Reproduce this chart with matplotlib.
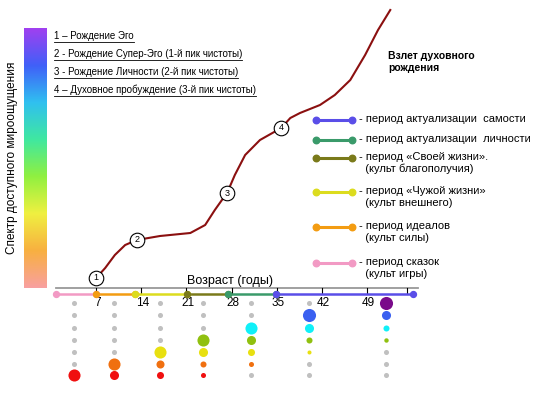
import numpy as np
import matplotlib
matplotlib.use("Agg")
import matplotlib.pyplot as plt
from matplotlib.colors import LinearSegmentedColormap

plt.rcParams['font.family'] = ['Liberation Sans', 'DejaVu Sans']

# ---- data ----
ages_ticks = [7, 14, 21, 28, 35, 42, 49]
curve_age = [7.0, 8.4, 9.9, 11.5, 13.3, 16.9, 21.6, 23.9, 25.4, 26.5, 27.3, 28.5, 30.1, 32.4, 35.7, 37.1, 38.6, 41.7, 44.0, 46.4, 48.7, 50.7, 52.6]
curve_lvl = [278, 268, 255, 245, 240, 236, 233, 225, 210, 200, 193, 175, 155, 140, 128, 118, 113, 105, 95, 80, 55, 30, 10]
milestone_age = [7.0, 13.3, 27.3, 35.7]
milestone_lvl = [278, 240, 193, 128]
milestone_lbl = ["1", "2", "3", "4"]
period_bounds = [0.78, 7.0, 13.0, 21.1, 27.4, 34.9, 56.1]
period_colors = ["#f29ac4", "#f39c12", "#dcdc1e", "#7a7a1a", "#3a9a6a", "#5a4ee8"]
legend_labels = ["- период актуализации  самости", "- период актуализации  личности",
                 "- период «Своей жизни».\n  (культ благополучия)",
                 "- период «Чужой жизни»\n  (культ внешнего)",
                 "- период идеалов\n  (культ силы)",
                 "- период сказок\n  (культ игры)"]
notes = ["1 – Рождение Эго", "2 - Рождение Супер-Эго (1-й пик чистоты)",
         "3 - Рождение Личности (2-й пик чистоты)", "4 – Духовное пробуждение (3-й пик чистоты)"]
dot_col_age = [3.57, 9.77, 16.9, 23.57, 31.0, 40.0, 51.9]
row_colors = ["#7a0a8a", "#3a60f0", "#10f0f8", "#90c010", "#e8e010", "#f07010", "#f01010"]
# radius per column (top row -> bottom row); 0 = gray
dot_sizes = [
    [0, 0, 0, 0, 0, 0, 6.0],
    [0, 0, 0, 0, 0, 6.0, 4.5],
    [0, 0, 0, 0, 6.0, 4.0, 3.5],
    [0, 0, 0, 6.0, 4.5, 3.0, 2.5],
    [0, 0, 6.0, 4.5, 3.5, 2.5, 0],
    [0, 6.5, 4.5, 3.0, 2.0, 0, 0],
    [6.5, 4.5, 3.0, 2.2, 0, 0, 0],
]
row_lvl = [303, 315, 328, 340, 352, 364, 375]

PX = 6.45; X0 = 51.0
def a2x(a): return X0 + PX * np.asarray(a)

fig = plt.figure(figsize=(5.45, 4.0), dpi=100)
ax = fig.add_axes([0, 0, 1, 1])
ax.set_xlim(0, 545); ax.set_ylim(400, 0); ax.axis("off")

# spectrum bar
cmap = LinearSegmentedColormap.from_list("s", ["#a040f0", "#4060f8", "#30c0f0", "#40e8a0", "#90f040", "#f0f040", "#f8b040", "#f8a0a0"])
ax.imshow(np.linspace(0, 1, 256)[:, None], cmap=cmap, extent=[24, 47, 288, 28], aspect="auto", zorder=1)
ax.text(12, 158, "Спектр доступного мироощущения", rotation=90, ha="center", va="center", fontsize=8.5)

# notes
for i, t in enumerate(notes):
    y = 36 + i * 18
    txt = ax.text(54, y, t, fontsize=7, va="center")
    fig.canvas.draw()
    bb = txt.get_window_extent()
    ax.plot([54, 54 + bb.width], [y + 6, y + 6], color="k", lw=0.6)

# curve
ax.plot(a2x(curve_age), curve_lvl, color="#8b1010", lw=1.5, zorder=2)
for a, l, t in zip(milestone_age, milestone_lvl, milestone_lbl):
    ax.scatter(a2x(a), l, s=110, facecolor="white", edgecolor="k", lw=0.8, zorder=3)
    ax.text(a2x(a), l, t, ha="center", va="center", fontsize=6.5, zorder=4)
ax.text(388, 62, "Взлет духовного\nрождения", fontsize=7.5, fontweight="bold", va="center")

# axis
ax.plot([56, 418], [288, 288], color="#999999", lw=1.3)
for a in ages_ticks:
    x = a2x(a)
    ax.plot([x, x], [288, 294], color="k", lw=0.8)
    ax.text(x + 1.5, 303, str(a), ha="center", va="center", fontsize=8.5)
ax.plot([407, 407], [288, 294], color="k", lw=0.8)
ax.text(230, 281, "Возраст (годы)", ha="center", va="center", fontsize=9)
for i, c in enumerate(period_colors):
    xs = a2x([period_bounds[i], period_bounds[i + 1]])
    ax.plot(xs, [294, 294], color=c, lw=1.8, zorder=2)
    ax.scatter(xs, [294, 294], s=18, color=c, zorder=3)

# legend
leg_y = [120, 140, 158, 192, 227, 263]
leg_cols = period_colors[::-1]
for y, c, t in zip(leg_y, leg_cols, legend_labels):
    ax.plot([316, 352], [y, y], color=c, lw=2.2)
    ax.scatter([316, 352], [y, y], s=22, color=c, zorder=3)
    ax.text(359, y - 6, t, fontsize=8, va="top", linespacing=1.2)

# dots
for a, sizes in zip(dot_col_age, dot_sizes):
    for r, l, c in zip(sizes, row_lvl, row_colors):
        if r == 0:
            ax.scatter(a2x(a), l, s=(2.6 * 1.4) ** 2, color="#c0c0c0", lw=0)
        else:
            ax.scatter(a2x(a), l, s=(r * 1.45) ** 2, color=c, lw=0)

fig.savefig("out.png", dpi=100)
